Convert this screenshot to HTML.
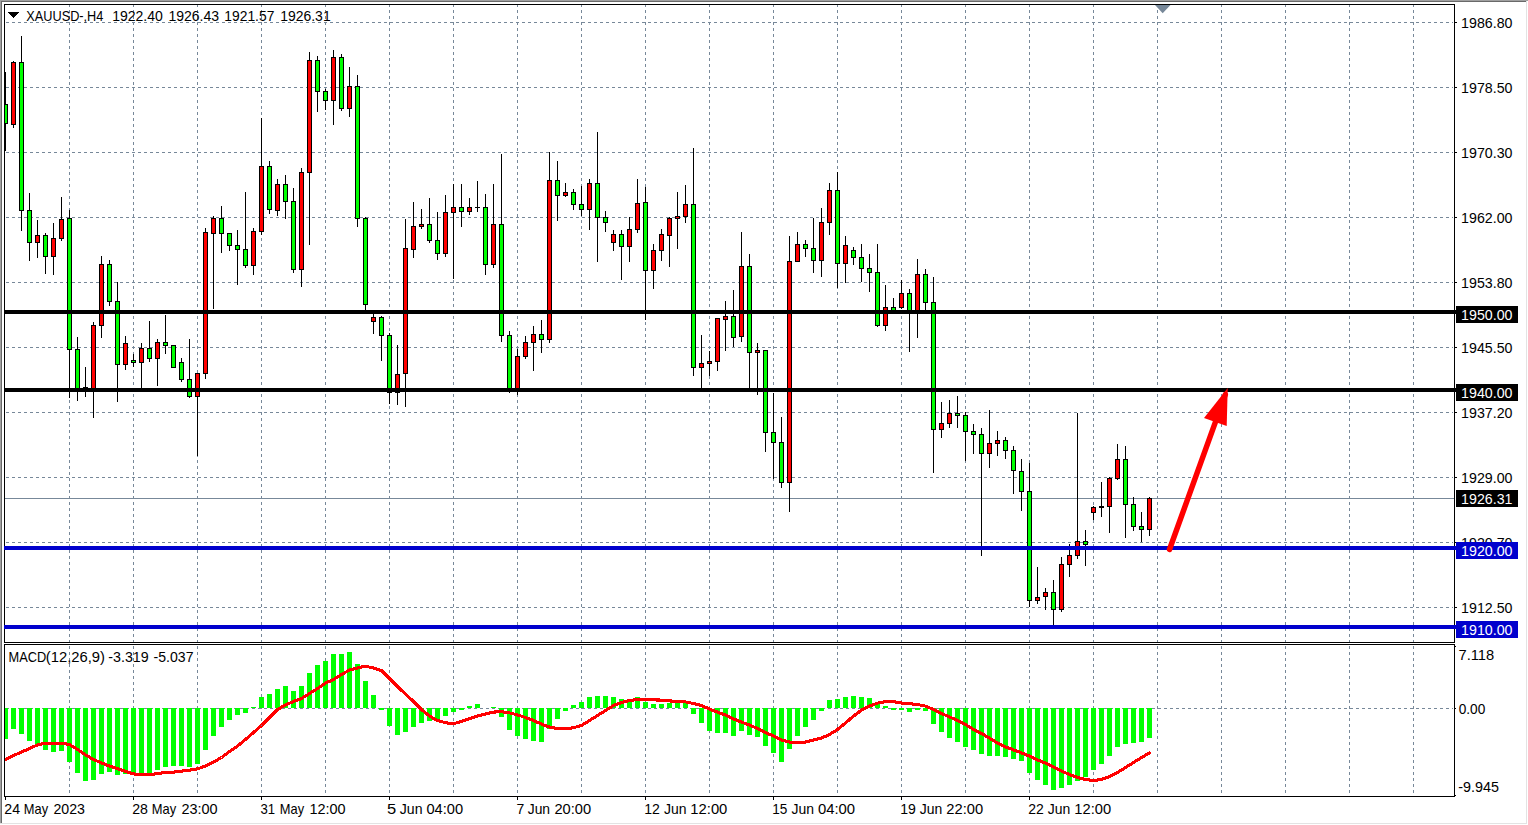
<!DOCTYPE html>
<html><head><meta charset="utf-8"><title>XAUUSD H4</title>
<style>
html,body{margin:0;padding:0;background:#fff;}
body{width:1528px;height:825px;overflow:hidden;position:relative;font-family:"Liberation Sans",sans-serif;}
svg{position:absolute;left:0;top:0;}
text{font-family:"Liberation Sans",sans-serif;font-size:13.8px;fill:#000;}
.w{fill:#fff;}
</style></head><body>
<svg width="1528" height="825" viewBox="0 0 1528 825">
<defs><clipPath id="cm"><rect x="5" y="5" width="1449" height="637"/></clipPath>
<clipPath id="cs"><rect x="5" y="645" width="1449" height="151"/></clipPath></defs>
<rect x="0" y="0" width="1528" height="825" fill="#fff"/>
<g shape-rendering="crispEdges">
<rect x="0" y="0" width="1528" height="1" fill="#a0a0a0"/>
<rect x="0" y="0" width="1" height="823" fill="#a0a0a0"/>
<rect x="1" y="1" width="1526" height="1" fill="#696969"/>
<rect x="1" y="1" width="1" height="822" fill="#696969"/>
<rect x="1526" y="1" width="1" height="823" fill="#e3e3e3"/>
<rect x="0" y="823" width="1527" height="1" fill="#e3e3e3"/>
<g stroke="#778899" stroke-width="1" stroke-dasharray="3 3" fill="none">
<line x1="69.5" y1="4" x2="69.5" y2="796"/>
<line x1="133.5" y1="4" x2="133.5" y2="796"/>
<line x1="197.5" y1="4" x2="197.5" y2="796"/>
<line x1="261.5" y1="4" x2="261.5" y2="796"/>
<line x1="325.5" y1="4" x2="325.5" y2="796"/>
<line x1="389.5" y1="4" x2="389.5" y2="796"/>
<line x1="453.5" y1="4" x2="453.5" y2="796"/>
<line x1="517.5" y1="4" x2="517.5" y2="796"/>
<line x1="581.5" y1="4" x2="581.5" y2="796"/>
<line x1="645.5" y1="4" x2="645.5" y2="796"/>
<line x1="709.5" y1="4" x2="709.5" y2="796"/>
<line x1="773.5" y1="4" x2="773.5" y2="796"/>
<line x1="837.5" y1="4" x2="837.5" y2="796"/>
<line x1="901.5" y1="4" x2="901.5" y2="796"/>
<line x1="965.5" y1="4" x2="965.5" y2="796"/>
<line x1="1029.5" y1="4" x2="1029.5" y2="796"/>
<line x1="1093.5" y1="4" x2="1093.5" y2="796"/>
<line x1="1157.5" y1="4" x2="1157.5" y2="796"/>
<line x1="1221.5" y1="4" x2="1221.5" y2="796"/>
<line x1="1285.5" y1="4" x2="1285.5" y2="796"/>
<line x1="1349.5" y1="4" x2="1349.5" y2="796"/>
<line x1="1413.5" y1="4" x2="1413.5" y2="796"/>
<line x1="6" y1="22.5" x2="1453" y2="22.5"/>
<line x1="6" y1="87.5" x2="1453" y2="87.5"/>
<line x1="6" y1="152.5" x2="1453" y2="152.5"/>
<line x1="6" y1="217.5" x2="1453" y2="217.5"/>
<line x1="6" y1="282.5" x2="1453" y2="282.5"/>
<line x1="6" y1="347.5" x2="1453" y2="347.5"/>
<line x1="6" y1="412.5" x2="1453" y2="412.5"/>
<line x1="6" y1="477.5" x2="1453" y2="477.5"/>
<line x1="6" y1="542.5" x2="1453" y2="542.5"/>
<line x1="6" y1="607.5" x2="1453" y2="607.5"/>
<line x1="6" y1="708.5" x2="1453" y2="708.5"/>
</g>
<rect x="5" y="643" width="1449" height="1" fill="#fff"/>
<rect x="5" y="498" width="1449" height="1" fill="#778899"/>
<g clip-path="url(#cm)">
<rect x="5" y="72" width="1" height="79" fill="#000"/>
<rect x="3" y="104" width="5" height="20" fill="#000"/>
<rect x="4" y="105" width="3" height="18" fill="#00ff00"/>
<rect x="13" y="61" width="1" height="67" fill="#000"/>
<rect x="11" y="62" width="5" height="63" fill="#000"/>
<rect x="12" y="63" width="3" height="61" fill="#ff0000"/>
<rect x="21" y="36" width="1" height="195" fill="#000"/>
<rect x="19" y="62" width="5" height="149" fill="#000"/>
<rect x="20" y="63" width="3" height="147" fill="#00ff00"/>
<rect x="29" y="193" width="1" height="68" fill="#000"/>
<rect x="27" y="210" width="5" height="33" fill="#000"/>
<rect x="28" y="211" width="3" height="31" fill="#00ff00"/>
<rect x="37" y="220" width="1" height="38" fill="#000"/>
<rect x="35" y="235" width="5" height="8" fill="#000"/>
<rect x="36" y="236" width="3" height="6" fill="#ff0000"/>
<rect x="45" y="233" width="1" height="41" fill="#000"/>
<rect x="43" y="235" width="5" height="22" fill="#000"/>
<rect x="44" y="236" width="3" height="20" fill="#00ff00"/>
<rect x="53" y="223" width="1" height="52" fill="#000"/>
<rect x="51" y="238" width="5" height="19" fill="#000"/>
<rect x="52" y="239" width="3" height="17" fill="#ff0000"/>
<rect x="61" y="197" width="1" height="44" fill="#000"/>
<rect x="59" y="219" width="5" height="20" fill="#000"/>
<rect x="60" y="220" width="3" height="18" fill="#ff0000"/>
<rect x="69" y="210" width="1" height="188" fill="#000"/>
<rect x="67" y="218" width="5" height="132" fill="#000"/>
<rect x="68" y="219" width="3" height="130" fill="#00ff00"/>
<rect x="77" y="337" width="1" height="64" fill="#000"/>
<rect x="75" y="349" width="5" height="40" fill="#000"/>
<rect x="76" y="350" width="3" height="38" fill="#00ff00"/>
<rect x="85" y="367" width="1" height="30" fill="#000"/>
<rect x="83" y="387" width="5" height="1" fill="#000"/>
<rect x="93" y="322" width="1" height="96" fill="#000"/>
<rect x="91" y="325" width="5" height="64" fill="#000"/>
<rect x="92" y="326" width="3" height="62" fill="#ff0000"/>
<rect x="101" y="256" width="1" height="82" fill="#000"/>
<rect x="99" y="264" width="5" height="62" fill="#000"/>
<rect x="100" y="265" width="3" height="60" fill="#ff0000"/>
<rect x="109" y="260" width="1" height="46" fill="#000"/>
<rect x="107" y="264" width="5" height="38" fill="#000"/>
<rect x="108" y="265" width="3" height="36" fill="#00ff00"/>
<rect x="117" y="282" width="1" height="120" fill="#000"/>
<rect x="115" y="301" width="5" height="64" fill="#000"/>
<rect x="116" y="302" width="3" height="62" fill="#00ff00"/>
<rect x="125" y="336" width="1" height="34" fill="#000"/>
<rect x="123" y="343" width="5" height="22" fill="#000"/>
<rect x="124" y="344" width="3" height="20" fill="#ff0000"/>
<rect x="133" y="354" width="1" height="13" fill="#000"/>
<rect x="131" y="360" width="5" height="3" fill="#000"/>
<rect x="132" y="361" width="3" height="1" fill="#00ff00"/>
<rect x="141" y="343" width="1" height="46" fill="#000"/>
<rect x="139" y="348" width="5" height="15" fill="#000"/>
<rect x="140" y="349" width="3" height="13" fill="#ff0000"/>
<rect x="149" y="321" width="1" height="41" fill="#000"/>
<rect x="147" y="348" width="5" height="11" fill="#000"/>
<rect x="148" y="349" width="3" height="9" fill="#00ff00"/>
<rect x="157" y="339" width="1" height="47" fill="#000"/>
<rect x="155" y="342" width="5" height="17" fill="#000"/>
<rect x="156" y="343" width="3" height="15" fill="#ff0000"/>
<rect x="165" y="315" width="1" height="39" fill="#000"/>
<rect x="163" y="342" width="5" height="4" fill="#000"/>
<rect x="164" y="343" width="3" height="2" fill="#00ff00"/>
<rect x="173" y="345" width="1" height="23" fill="#000"/>
<rect x="171" y="345" width="5" height="23" fill="#000"/>
<rect x="172" y="346" width="3" height="21" fill="#00ff00"/>
<rect x="181" y="358" width="1" height="24" fill="#000"/>
<rect x="179" y="362" width="5" height="18" fill="#000"/>
<rect x="180" y="363" width="3" height="16" fill="#00ff00"/>
<rect x="189" y="339" width="1" height="59" fill="#000"/>
<rect x="187" y="379" width="5" height="18" fill="#000"/>
<rect x="188" y="380" width="3" height="16" fill="#00ff00"/>
<rect x="197" y="373" width="1" height="83" fill="#000"/>
<rect x="195" y="373" width="5" height="24" fill="#000"/>
<rect x="196" y="374" width="3" height="22" fill="#ff0000"/>
<rect x="205" y="228" width="1" height="151" fill="#000"/>
<rect x="203" y="232" width="5" height="142" fill="#000"/>
<rect x="204" y="233" width="3" height="140" fill="#ff0000"/>
<rect x="213" y="216" width="1" height="93" fill="#000"/>
<rect x="211" y="218" width="5" height="16" fill="#000"/>
<rect x="212" y="219" width="3" height="14" fill="#ff0000"/>
<rect x="221" y="206" width="1" height="47" fill="#000"/>
<rect x="219" y="218" width="5" height="16" fill="#000"/>
<rect x="220" y="219" width="3" height="14" fill="#00ff00"/>
<rect x="229" y="233" width="1" height="18" fill="#000"/>
<rect x="227" y="233" width="5" height="13" fill="#000"/>
<rect x="228" y="234" width="3" height="11" fill="#00ff00"/>
<rect x="237" y="230" width="1" height="55" fill="#000"/>
<rect x="235" y="245" width="5" height="5" fill="#000"/>
<rect x="236" y="246" width="3" height="3" fill="#00ff00"/>
<rect x="245" y="192" width="1" height="76" fill="#000"/>
<rect x="243" y="249" width="5" height="17" fill="#000"/>
<rect x="244" y="250" width="3" height="15" fill="#00ff00"/>
<rect x="253" y="228" width="1" height="47" fill="#000"/>
<rect x="251" y="231" width="5" height="35" fill="#000"/>
<rect x="252" y="232" width="3" height="33" fill="#ff0000"/>
<rect x="261" y="118" width="1" height="117" fill="#000"/>
<rect x="259" y="166" width="5" height="66" fill="#000"/>
<rect x="260" y="167" width="3" height="64" fill="#ff0000"/>
<rect x="269" y="161" width="1" height="53" fill="#000"/>
<rect x="267" y="166" width="5" height="44" fill="#000"/>
<rect x="268" y="167" width="3" height="42" fill="#00ff00"/>
<rect x="277" y="179" width="1" height="37" fill="#000"/>
<rect x="275" y="184" width="5" height="27" fill="#000"/>
<rect x="276" y="185" width="3" height="25" fill="#ff0000"/>
<rect x="285" y="175" width="1" height="44" fill="#000"/>
<rect x="283" y="184" width="5" height="18" fill="#000"/>
<rect x="284" y="185" width="3" height="16" fill="#00ff00"/>
<rect x="293" y="188" width="1" height="85" fill="#000"/>
<rect x="291" y="201" width="5" height="69" fill="#000"/>
<rect x="292" y="202" width="3" height="67" fill="#00ff00"/>
<rect x="301" y="168" width="1" height="119" fill="#000"/>
<rect x="299" y="172" width="5" height="98" fill="#000"/>
<rect x="300" y="173" width="3" height="96" fill="#ff0000"/>
<rect x="309" y="52" width="1" height="193" fill="#000"/>
<rect x="307" y="60" width="5" height="113" fill="#000"/>
<rect x="308" y="61" width="3" height="111" fill="#ff0000"/>
<rect x="317" y="56" width="1" height="56" fill="#000"/>
<rect x="315" y="60" width="5" height="32" fill="#000"/>
<rect x="316" y="61" width="3" height="30" fill="#00ff00"/>
<rect x="325" y="89" width="1" height="21" fill="#000"/>
<rect x="323" y="91" width="5" height="10" fill="#000"/>
<rect x="324" y="92" width="3" height="8" fill="#00ff00"/>
<rect x="333" y="50" width="1" height="75" fill="#000"/>
<rect x="331" y="57" width="5" height="44" fill="#000"/>
<rect x="332" y="58" width="3" height="42" fill="#ff0000"/>
<rect x="341" y="54" width="1" height="57" fill="#000"/>
<rect x="339" y="57" width="5" height="52" fill="#000"/>
<rect x="340" y="58" width="3" height="50" fill="#00ff00"/>
<rect x="349" y="67" width="1" height="50" fill="#000"/>
<rect x="347" y="86" width="5" height="23" fill="#000"/>
<rect x="348" y="87" width="3" height="21" fill="#ff0000"/>
<rect x="357" y="75" width="1" height="152" fill="#000"/>
<rect x="355" y="86" width="5" height="133" fill="#000"/>
<rect x="356" y="87" width="3" height="131" fill="#00ff00"/>
<rect x="365" y="217" width="1" height="94" fill="#000"/>
<rect x="363" y="218" width="5" height="87" fill="#000"/>
<rect x="364" y="219" width="3" height="85" fill="#00ff00"/>
<rect x="373" y="314" width="1" height="20" fill="#000"/>
<rect x="371" y="317" width="5" height="5" fill="#000"/>
<rect x="372" y="318" width="3" height="3" fill="#ff0000"/>
<rect x="381" y="316" width="1" height="45" fill="#000"/>
<rect x="379" y="317" width="5" height="19" fill="#000"/>
<rect x="380" y="318" width="3" height="17" fill="#00ff00"/>
<rect x="389" y="333" width="1" height="71" fill="#000"/>
<rect x="387" y="335" width="5" height="58" fill="#000"/>
<rect x="388" y="336" width="3" height="56" fill="#00ff00"/>
<rect x="397" y="345" width="1" height="60" fill="#000"/>
<rect x="395" y="374" width="5" height="19" fill="#000"/>
<rect x="396" y="375" width="3" height="17" fill="#ff0000"/>
<rect x="405" y="219" width="1" height="188" fill="#000"/>
<rect x="403" y="248" width="5" height="126" fill="#000"/>
<rect x="404" y="249" width="3" height="124" fill="#ff0000"/>
<rect x="413" y="202" width="1" height="56" fill="#000"/>
<rect x="411" y="226" width="5" height="24" fill="#000"/>
<rect x="412" y="227" width="3" height="22" fill="#ff0000"/>
<rect x="421" y="209" width="1" height="20" fill="#000"/>
<rect x="419" y="224" width="5" height="3" fill="#000"/>
<rect x="420" y="225" width="3" height="1" fill="#ff0000"/>
<rect x="429" y="198" width="1" height="45" fill="#000"/>
<rect x="427" y="224" width="5" height="17" fill="#000"/>
<rect x="428" y="225" width="3" height="15" fill="#00ff00"/>
<rect x="437" y="212" width="1" height="48" fill="#000"/>
<rect x="435" y="240" width="5" height="14" fill="#000"/>
<rect x="436" y="241" width="3" height="12" fill="#00ff00"/>
<rect x="445" y="195" width="1" height="62" fill="#000"/>
<rect x="443" y="212" width="5" height="42" fill="#000"/>
<rect x="444" y="213" width="3" height="40" fill="#ff0000"/>
<rect x="453" y="184" width="1" height="95" fill="#000"/>
<rect x="451" y="207" width="5" height="6" fill="#000"/>
<rect x="452" y="208" width="3" height="4" fill="#ff0000"/>
<rect x="461" y="184" width="1" height="43" fill="#000"/>
<rect x="459" y="207" width="5" height="5" fill="#000"/>
<rect x="460" y="208" width="3" height="3" fill="#00ff00"/>
<rect x="469" y="198" width="1" height="17" fill="#000"/>
<rect x="467" y="207" width="5" height="5" fill="#000"/>
<rect x="468" y="208" width="3" height="3" fill="#ff0000"/>
<rect x="477" y="181" width="1" height="31" fill="#000"/>
<rect x="475" y="207" width="5" height="1" fill="#000"/>
<rect x="485" y="194" width="1" height="81" fill="#000"/>
<rect x="483" y="207" width="5" height="58" fill="#000"/>
<rect x="484" y="208" width="3" height="56" fill="#00ff00"/>
<rect x="493" y="184" width="1" height="84" fill="#000"/>
<rect x="491" y="224" width="5" height="41" fill="#000"/>
<rect x="492" y="225" width="3" height="39" fill="#ff0000"/>
<rect x="501" y="154" width="1" height="188" fill="#000"/>
<rect x="499" y="224" width="5" height="112" fill="#000"/>
<rect x="500" y="225" width="3" height="110" fill="#00ff00"/>
<rect x="509" y="331" width="1" height="62" fill="#000"/>
<rect x="507" y="335" width="5" height="56" fill="#000"/>
<rect x="508" y="336" width="3" height="54" fill="#00ff00"/>
<rect x="517" y="349" width="1" height="46" fill="#000"/>
<rect x="515" y="356" width="5" height="35" fill="#000"/>
<rect x="516" y="357" width="3" height="33" fill="#ff0000"/>
<rect x="525" y="336" width="1" height="23" fill="#000"/>
<rect x="523" y="342" width="5" height="15" fill="#000"/>
<rect x="524" y="343" width="3" height="13" fill="#ff0000"/>
<rect x="533" y="326" width="1" height="45" fill="#000"/>
<rect x="531" y="334" width="5" height="9" fill="#000"/>
<rect x="532" y="335" width="3" height="7" fill="#ff0000"/>
<rect x="541" y="320" width="1" height="33" fill="#000"/>
<rect x="539" y="334" width="5" height="6" fill="#000"/>
<rect x="540" y="335" width="3" height="4" fill="#00ff00"/>
<rect x="549" y="152" width="1" height="191" fill="#000"/>
<rect x="547" y="180" width="5" height="160" fill="#000"/>
<rect x="548" y="181" width="3" height="158" fill="#ff0000"/>
<rect x="557" y="161" width="1" height="60" fill="#000"/>
<rect x="555" y="180" width="5" height="16" fill="#000"/>
<rect x="556" y="181" width="3" height="14" fill="#00ff00"/>
<rect x="565" y="183" width="1" height="14" fill="#000"/>
<rect x="563" y="192" width="5" height="4" fill="#000"/>
<rect x="564" y="193" width="3" height="2" fill="#ff0000"/>
<rect x="573" y="189" width="1" height="21" fill="#000"/>
<rect x="571" y="192" width="5" height="13" fill="#000"/>
<rect x="572" y="193" width="3" height="11" fill="#00ff00"/>
<rect x="581" y="186" width="1" height="30" fill="#000"/>
<rect x="579" y="204" width="5" height="6" fill="#000"/>
<rect x="580" y="205" width="3" height="4" fill="#00ff00"/>
<rect x="589" y="179" width="1" height="51" fill="#000"/>
<rect x="587" y="183" width="5" height="27" fill="#000"/>
<rect x="588" y="184" width="3" height="25" fill="#ff0000"/>
<rect x="597" y="132" width="1" height="130" fill="#000"/>
<rect x="595" y="183" width="5" height="35" fill="#000"/>
<rect x="596" y="184" width="3" height="33" fill="#00ff00"/>
<rect x="605" y="211" width="1" height="21" fill="#000"/>
<rect x="603" y="217" width="5" height="6" fill="#000"/>
<rect x="604" y="218" width="3" height="4" fill="#00ff00"/>
<rect x="613" y="230" width="1" height="21" fill="#000"/>
<rect x="611" y="234" width="5" height="9" fill="#000"/>
<rect x="612" y="235" width="3" height="7" fill="#ff0000"/>
<rect x="621" y="230" width="1" height="50" fill="#000"/>
<rect x="619" y="234" width="5" height="13" fill="#000"/>
<rect x="620" y="235" width="3" height="11" fill="#00ff00"/>
<rect x="629" y="217" width="1" height="45" fill="#000"/>
<rect x="627" y="229" width="5" height="18" fill="#000"/>
<rect x="628" y="230" width="3" height="16" fill="#ff0000"/>
<rect x="637" y="179" width="1" height="54" fill="#000"/>
<rect x="635" y="203" width="5" height="27" fill="#000"/>
<rect x="636" y="204" width="3" height="25" fill="#ff0000"/>
<rect x="645" y="187" width="1" height="133" fill="#000"/>
<rect x="643" y="202" width="5" height="69" fill="#000"/>
<rect x="644" y="203" width="3" height="67" fill="#00ff00"/>
<rect x="653" y="244" width="1" height="45" fill="#000"/>
<rect x="651" y="250" width="5" height="21" fill="#000"/>
<rect x="652" y="251" width="3" height="19" fill="#ff0000"/>
<rect x="661" y="229" width="1" height="32" fill="#000"/>
<rect x="659" y="234" width="5" height="17" fill="#000"/>
<rect x="660" y="235" width="3" height="15" fill="#ff0000"/>
<rect x="669" y="217" width="1" height="50" fill="#000"/>
<rect x="667" y="218" width="5" height="18" fill="#000"/>
<rect x="668" y="219" width="3" height="16" fill="#ff0000"/>
<rect x="677" y="192" width="1" height="57" fill="#000"/>
<rect x="675" y="216" width="5" height="3" fill="#000"/>
<rect x="676" y="217" width="3" height="1" fill="#ff0000"/>
<rect x="685" y="185" width="1" height="38" fill="#000"/>
<rect x="683" y="204" width="5" height="13" fill="#000"/>
<rect x="684" y="205" width="3" height="11" fill="#ff0000"/>
<rect x="693" y="148" width="1" height="228" fill="#000"/>
<rect x="691" y="204" width="5" height="164" fill="#000"/>
<rect x="692" y="205" width="3" height="162" fill="#00ff00"/>
<rect x="701" y="335" width="1" height="56" fill="#000"/>
<rect x="699" y="363" width="5" height="5" fill="#000"/>
<rect x="700" y="364" width="3" height="3" fill="#ff0000"/>
<rect x="709" y="351" width="1" height="25" fill="#000"/>
<rect x="707" y="361" width="5" height="3" fill="#000"/>
<rect x="708" y="362" width="3" height="1" fill="#ff0000"/>
<rect x="717" y="318" width="1" height="53" fill="#000"/>
<rect x="715" y="318" width="5" height="44" fill="#000"/>
<rect x="716" y="319" width="3" height="42" fill="#ff0000"/>
<rect x="725" y="301" width="1" height="50" fill="#000"/>
<rect x="723" y="316" width="5" height="4" fill="#000"/>
<rect x="724" y="317" width="3" height="2" fill="#ff0000"/>
<rect x="733" y="290" width="1" height="57" fill="#000"/>
<rect x="731" y="316" width="5" height="22" fill="#000"/>
<rect x="732" y="317" width="3" height="20" fill="#00ff00"/>
<rect x="741" y="232" width="1" height="110" fill="#000"/>
<rect x="739" y="266" width="5" height="71" fill="#000"/>
<rect x="740" y="267" width="3" height="69" fill="#ff0000"/>
<rect x="749" y="254" width="1" height="137" fill="#000"/>
<rect x="747" y="266" width="5" height="87" fill="#000"/>
<rect x="748" y="267" width="3" height="85" fill="#00ff00"/>
<rect x="757" y="343" width="1" height="52" fill="#000"/>
<rect x="755" y="350" width="5" height="3" fill="#000"/>
<rect x="756" y="351" width="3" height="1" fill="#ff0000"/>
<rect x="765" y="350" width="1" height="102" fill="#000"/>
<rect x="763" y="350" width="5" height="83" fill="#000"/>
<rect x="764" y="351" width="3" height="81" fill="#00ff00"/>
<rect x="773" y="393" width="1" height="86" fill="#000"/>
<rect x="771" y="432" width="5" height="11" fill="#000"/>
<rect x="772" y="433" width="3" height="9" fill="#00ff00"/>
<rect x="781" y="417" width="1" height="71" fill="#000"/>
<rect x="779" y="442" width="5" height="41" fill="#000"/>
<rect x="780" y="443" width="3" height="39" fill="#00ff00"/>
<rect x="789" y="236" width="1" height="276" fill="#000"/>
<rect x="787" y="261" width="5" height="222" fill="#000"/>
<rect x="788" y="262" width="3" height="220" fill="#ff0000"/>
<rect x="797" y="232" width="1" height="30" fill="#000"/>
<rect x="795" y="244" width="5" height="18" fill="#000"/>
<rect x="796" y="245" width="3" height="16" fill="#ff0000"/>
<rect x="805" y="240" width="1" height="17" fill="#000"/>
<rect x="803" y="244" width="5" height="5" fill="#000"/>
<rect x="804" y="245" width="3" height="3" fill="#00ff00"/>
<rect x="813" y="218" width="1" height="55" fill="#000"/>
<rect x="811" y="248" width="5" height="13" fill="#000"/>
<rect x="812" y="249" width="3" height="11" fill="#00ff00"/>
<rect x="821" y="208" width="1" height="69" fill="#000"/>
<rect x="819" y="222" width="5" height="39" fill="#000"/>
<rect x="820" y="223" width="3" height="37" fill="#ff0000"/>
<rect x="829" y="183" width="1" height="52" fill="#000"/>
<rect x="827" y="190" width="5" height="33" fill="#000"/>
<rect x="828" y="191" width="3" height="31" fill="#ff0000"/>
<rect x="837" y="172" width="1" height="116" fill="#000"/>
<rect x="835" y="190" width="5" height="74" fill="#000"/>
<rect x="836" y="191" width="3" height="72" fill="#00ff00"/>
<rect x="845" y="236" width="1" height="47" fill="#000"/>
<rect x="843" y="245" width="5" height="19" fill="#000"/>
<rect x="844" y="246" width="3" height="17" fill="#ff0000"/>
<rect x="853" y="247" width="1" height="18" fill="#000"/>
<rect x="851" y="250" width="5" height="8" fill="#000"/>
<rect x="852" y="251" width="3" height="6" fill="#00ff00"/>
<rect x="861" y="244" width="1" height="38" fill="#000"/>
<rect x="859" y="257" width="5" height="12" fill="#000"/>
<rect x="860" y="258" width="3" height="10" fill="#00ff00"/>
<rect x="869" y="254" width="1" height="38" fill="#000"/>
<rect x="867" y="268" width="5" height="5" fill="#000"/>
<rect x="868" y="269" width="3" height="3" fill="#00ff00"/>
<rect x="877" y="244" width="1" height="83" fill="#000"/>
<rect x="875" y="272" width="5" height="54" fill="#000"/>
<rect x="876" y="273" width="3" height="52" fill="#00ff00"/>
<rect x="885" y="285" width="1" height="46" fill="#000"/>
<rect x="883" y="307" width="5" height="19" fill="#000"/>
<rect x="884" y="308" width="3" height="17" fill="#ff0000"/>
<rect x="893" y="298" width="1" height="14" fill="#000"/>
<rect x="891" y="307" width="5" height="5" fill="#000"/>
<rect x="892" y="308" width="3" height="3" fill="#00ff00"/>
<rect x="901" y="280" width="1" height="29" fill="#000"/>
<rect x="899" y="293" width="5" height="15" fill="#000"/>
<rect x="900" y="294" width="3" height="13" fill="#ff0000"/>
<rect x="909" y="289" width="1" height="63" fill="#000"/>
<rect x="907" y="293" width="5" height="20" fill="#000"/>
<rect x="908" y="294" width="3" height="18" fill="#00ff00"/>
<rect x="917" y="259" width="1" height="79" fill="#000"/>
<rect x="915" y="274" width="5" height="39" fill="#000"/>
<rect x="916" y="275" width="3" height="37" fill="#ff0000"/>
<rect x="925" y="269" width="1" height="42" fill="#000"/>
<rect x="923" y="274" width="5" height="29" fill="#000"/>
<rect x="924" y="275" width="3" height="27" fill="#00ff00"/>
<rect x="933" y="277" width="1" height="196" fill="#000"/>
<rect x="931" y="302" width="5" height="128" fill="#000"/>
<rect x="932" y="303" width="3" height="126" fill="#00ff00"/>
<rect x="941" y="402" width="1" height="36" fill="#000"/>
<rect x="939" y="423" width="5" height="7" fill="#000"/>
<rect x="940" y="424" width="3" height="5" fill="#ff0000"/>
<rect x="949" y="400" width="1" height="28" fill="#000"/>
<rect x="947" y="413" width="5" height="11" fill="#000"/>
<rect x="948" y="414" width="3" height="9" fill="#ff0000"/>
<rect x="957" y="396" width="1" height="32" fill="#000"/>
<rect x="955" y="413" width="5" height="3" fill="#000"/>
<rect x="956" y="414" width="3" height="1" fill="#00ff00"/>
<rect x="965" y="412" width="1" height="49" fill="#000"/>
<rect x="963" y="415" width="5" height="17" fill="#000"/>
<rect x="964" y="416" width="3" height="15" fill="#00ff00"/>
<rect x="973" y="424" width="1" height="30" fill="#000"/>
<rect x="971" y="431" width="5" height="4" fill="#000"/>
<rect x="972" y="432" width="3" height="2" fill="#00ff00"/>
<rect x="981" y="428" width="1" height="128" fill="#000"/>
<rect x="979" y="434" width="5" height="20" fill="#000"/>
<rect x="980" y="435" width="3" height="18" fill="#00ff00"/>
<rect x="989" y="410" width="1" height="58" fill="#000"/>
<rect x="987" y="443" width="5" height="11" fill="#000"/>
<rect x="988" y="444" width="3" height="9" fill="#ff0000"/>
<rect x="997" y="431" width="1" height="25" fill="#000"/>
<rect x="995" y="440" width="5" height="4" fill="#000"/>
<rect x="996" y="441" width="3" height="2" fill="#ff0000"/>
<rect x="1005" y="437" width="1" height="22" fill="#000"/>
<rect x="1003" y="440" width="5" height="11" fill="#000"/>
<rect x="1004" y="441" width="3" height="9" fill="#00ff00"/>
<rect x="1013" y="446" width="1" height="48" fill="#000"/>
<rect x="1011" y="450" width="5" height="21" fill="#000"/>
<rect x="1012" y="451" width="3" height="19" fill="#00ff00"/>
<rect x="1021" y="459" width="1" height="52" fill="#000"/>
<rect x="1019" y="471" width="5" height="21" fill="#000"/>
<rect x="1020" y="472" width="3" height="19" fill="#00ff00"/>
<rect x="1029" y="463" width="1" height="144" fill="#000"/>
<rect x="1027" y="491" width="5" height="110" fill="#000"/>
<rect x="1028" y="492" width="3" height="108" fill="#00ff00"/>
<rect x="1037" y="567" width="1" height="37" fill="#000"/>
<rect x="1035" y="597" width="5" height="4" fill="#000"/>
<rect x="1036" y="598" width="3" height="2" fill="#ff0000"/>
<rect x="1045" y="588" width="1" height="22" fill="#000"/>
<rect x="1043" y="592" width="5" height="5" fill="#000"/>
<rect x="1044" y="593" width="3" height="3" fill="#ff0000"/>
<rect x="1053" y="580" width="1" height="46" fill="#000"/>
<rect x="1051" y="592" width="5" height="18" fill="#000"/>
<rect x="1052" y="593" width="3" height="16" fill="#00ff00"/>
<rect x="1061" y="557" width="1" height="55" fill="#000"/>
<rect x="1059" y="564" width="5" height="46" fill="#000"/>
<rect x="1060" y="565" width="3" height="44" fill="#ff0000"/>
<rect x="1069" y="544" width="1" height="33" fill="#000"/>
<rect x="1067" y="555" width="5" height="10" fill="#000"/>
<rect x="1068" y="556" width="3" height="8" fill="#ff0000"/>
<rect x="1077" y="413" width="1" height="146" fill="#000"/>
<rect x="1075" y="541" width="5" height="15" fill="#000"/>
<rect x="1076" y="542" width="3" height="13" fill="#ff0000"/>
<rect x="1085" y="530" width="1" height="36" fill="#000"/>
<rect x="1083" y="541" width="5" height="4" fill="#000"/>
<rect x="1084" y="542" width="3" height="2" fill="#00ff00"/>
<rect x="1093" y="506" width="1" height="14" fill="#000"/>
<rect x="1091" y="507" width="5" height="6" fill="#000"/>
<rect x="1092" y="508" width="3" height="4" fill="#ff0000"/>
<rect x="1101" y="482" width="1" height="35" fill="#000"/>
<rect x="1099" y="506" width="5" height="2" fill="#000"/>
<rect x="1109" y="477" width="1" height="56" fill="#000"/>
<rect x="1107" y="478" width="5" height="29" fill="#000"/>
<rect x="1108" y="479" width="3" height="27" fill="#ff0000"/>
<rect x="1117" y="444" width="1" height="36" fill="#000"/>
<rect x="1115" y="459" width="5" height="20" fill="#000"/>
<rect x="1116" y="460" width="3" height="18" fill="#ff0000"/>
<rect x="1125" y="446" width="1" height="92" fill="#000"/>
<rect x="1123" y="459" width="5" height="46" fill="#000"/>
<rect x="1124" y="460" width="3" height="44" fill="#00ff00"/>
<rect x="1133" y="497" width="1" height="34" fill="#000"/>
<rect x="1131" y="504" width="5" height="23" fill="#000"/>
<rect x="1132" y="505" width="3" height="21" fill="#00ff00"/>
<rect x="1141" y="512" width="1" height="30" fill="#000"/>
<rect x="1139" y="526" width="5" height="4" fill="#000"/>
<rect x="1140" y="527" width="3" height="2" fill="#00ff00"/>
<rect x="1149" y="497" width="1" height="39" fill="#000"/>
<rect x="1147" y="498" width="5" height="32" fill="#000"/>
<rect x="1148" y="499" width="3" height="30" fill="#ff0000"/>
</g>
<g clip-path="url(#cs)">
<rect x="3" y="708" width="5" height="31" fill="#00ff00"/>
<rect x="11" y="708" width="5" height="21" fill="#00ff00"/>
<rect x="19" y="708" width="5" height="26" fill="#00ff00"/>
<rect x="27" y="708" width="5" height="33" fill="#00ff00"/>
<rect x="35" y="708" width="5" height="38" fill="#00ff00"/>
<rect x="43" y="708" width="5" height="42" fill="#00ff00"/>
<rect x="51" y="708" width="5" height="44" fill="#00ff00"/>
<rect x="59" y="708" width="5" height="43" fill="#00ff00"/>
<rect x="67" y="708" width="5" height="54" fill="#00ff00"/>
<rect x="75" y="708" width="5" height="65" fill="#00ff00"/>
<rect x="83" y="708" width="5" height="73" fill="#00ff00"/>
<rect x="91" y="708" width="5" height="72" fill="#00ff00"/>
<rect x="99" y="708" width="5" height="66" fill="#00ff00"/>
<rect x="107" y="708" width="5" height="64" fill="#00ff00"/>
<rect x="115" y="708" width="5" height="67" fill="#00ff00"/>
<rect x="123" y="708" width="5" height="66" fill="#00ff00"/>
<rect x="131" y="708" width="5" height="67" fill="#00ff00"/>
<rect x="139" y="708" width="5" height="66" fill="#00ff00"/>
<rect x="147" y="708" width="5" height="65" fill="#00ff00"/>
<rect x="155" y="708" width="5" height="62" fill="#00ff00"/>
<rect x="163" y="708" width="5" height="59" fill="#00ff00"/>
<rect x="171" y="708" width="5" height="58" fill="#00ff00"/>
<rect x="179" y="708" width="5" height="58" fill="#00ff00"/>
<rect x="187" y="708" width="5" height="59" fill="#00ff00"/>
<rect x="195" y="708" width="5" height="56" fill="#00ff00"/>
<rect x="203" y="708" width="5" height="42" fill="#00ff00"/>
<rect x="211" y="708" width="5" height="28" fill="#00ff00"/>
<rect x="219" y="708" width="5" height="19" fill="#00ff00"/>
<rect x="227" y="708" width="5" height="12" fill="#00ff00"/>
<rect x="235" y="708" width="5" height="7" fill="#00ff00"/>
<rect x="243" y="708" width="5" height="5" fill="#00ff00"/>
<rect x="251" y="707" width="5" height="1" fill="#00ff00"/>
<rect x="259" y="697" width="5" height="11" fill="#00ff00"/>
<rect x="267" y="694" width="5" height="14" fill="#00ff00"/>
<rect x="275" y="689" width="5" height="19" fill="#00ff00"/>
<rect x="283" y="686" width="5" height="22" fill="#00ff00"/>
<rect x="291" y="691" width="5" height="17" fill="#00ff00"/>
<rect x="299" y="686" width="5" height="22" fill="#00ff00"/>
<rect x="307" y="673" width="5" height="35" fill="#00ff00"/>
<rect x="315" y="665" width="5" height="43" fill="#00ff00"/>
<rect x="323" y="661" width="5" height="47" fill="#00ff00"/>
<rect x="331" y="654" width="5" height="54" fill="#00ff00"/>
<rect x="339" y="654" width="5" height="54" fill="#00ff00"/>
<rect x="347" y="652" width="5" height="56" fill="#00ff00"/>
<rect x="355" y="664" width="5" height="44" fill="#00ff00"/>
<rect x="363" y="681" width="5" height="27" fill="#00ff00"/>
<rect x="371" y="695" width="5" height="13" fill="#00ff00"/>
<rect x="379" y="708" width="5" height="2" fill="#00ff00"/>
<rect x="387" y="708" width="5" height="18" fill="#00ff00"/>
<rect x="395" y="708" width="5" height="27" fill="#00ff00"/>
<rect x="403" y="708" width="5" height="24" fill="#00ff00"/>
<rect x="411" y="708" width="5" height="19" fill="#00ff00"/>
<rect x="419" y="708" width="5" height="15" fill="#00ff00"/>
<rect x="427" y="708" width="5" height="13" fill="#00ff00"/>
<rect x="435" y="708" width="5" height="13" fill="#00ff00"/>
<rect x="443" y="708" width="5" height="8" fill="#00ff00"/>
<rect x="451" y="708" width="5" height="4" fill="#00ff00"/>
<rect x="459" y="708" width="5" height="2" fill="#00ff00"/>
<rect x="467" y="706" width="5" height="2" fill="#00ff00"/>
<rect x="475" y="704" width="5" height="4" fill="#00ff00"/>
<rect x="483" y="708" width="5" height="0" fill="#00ff00"/>
<rect x="491" y="707" width="5" height="1" fill="#00ff00"/>
<rect x="499" y="708" width="5" height="9" fill="#00ff00"/>
<rect x="507" y="708" width="5" height="22" fill="#00ff00"/>
<rect x="515" y="708" width="5" height="28" fill="#00ff00"/>
<rect x="523" y="708" width="5" height="31" fill="#00ff00"/>
<rect x="531" y="708" width="5" height="33" fill="#00ff00"/>
<rect x="539" y="708" width="5" height="34" fill="#00ff00"/>
<rect x="547" y="708" width="5" height="21" fill="#00ff00"/>
<rect x="555" y="708" width="5" height="11" fill="#00ff00"/>
<rect x="563" y="708" width="5" height="3" fill="#00ff00"/>
<rect x="571" y="705" width="5" height="3" fill="#00ff00"/>
<rect x="579" y="702" width="5" height="6" fill="#00ff00"/>
<rect x="587" y="697" width="5" height="11" fill="#00ff00"/>
<rect x="595" y="696" width="5" height="12" fill="#00ff00"/>
<rect x="603" y="696" width="5" height="12" fill="#00ff00"/>
<rect x="611" y="697" width="5" height="11" fill="#00ff00"/>
<rect x="619" y="699" width="5" height="9" fill="#00ff00"/>
<rect x="627" y="700" width="5" height="8" fill="#00ff00"/>
<rect x="635" y="697" width="5" height="11" fill="#00ff00"/>
<rect x="643" y="702" width="5" height="6" fill="#00ff00"/>
<rect x="651" y="704" width="5" height="4" fill="#00ff00"/>
<rect x="659" y="704" width="5" height="4" fill="#00ff00"/>
<rect x="667" y="703" width="5" height="5" fill="#00ff00"/>
<rect x="675" y="702" width="5" height="6" fill="#00ff00"/>
<rect x="683" y="701" width="5" height="7" fill="#00ff00"/>
<rect x="691" y="708" width="5" height="6" fill="#00ff00"/>
<rect x="699" y="708" width="5" height="15" fill="#00ff00"/>
<rect x="707" y="708" width="5" height="23" fill="#00ff00"/>
<rect x="715" y="708" width="5" height="25" fill="#00ff00"/>
<rect x="723" y="708" width="5" height="25" fill="#00ff00"/>
<rect x="731" y="708" width="5" height="28" fill="#00ff00"/>
<rect x="739" y="708" width="5" height="23" fill="#00ff00"/>
<rect x="747" y="708" width="5" height="27" fill="#00ff00"/>
<rect x="755" y="708" width="5" height="29" fill="#00ff00"/>
<rect x="763" y="708" width="5" height="38" fill="#00ff00"/>
<rect x="771" y="708" width="5" height="45" fill="#00ff00"/>
<rect x="779" y="708" width="5" height="54" fill="#00ff00"/>
<rect x="787" y="708" width="5" height="41" fill="#00ff00"/>
<rect x="795" y="708" width="5" height="28" fill="#00ff00"/>
<rect x="803" y="708" width="5" height="19" fill="#00ff00"/>
<rect x="811" y="708" width="5" height="12" fill="#00ff00"/>
<rect x="819" y="708" width="5" height="3" fill="#00ff00"/>
<rect x="827" y="700" width="5" height="8" fill="#00ff00"/>
<rect x="835" y="699" width="5" height="9" fill="#00ff00"/>
<rect x="843" y="697" width="5" height="11" fill="#00ff00"/>
<rect x="851" y="696" width="5" height="12" fill="#00ff00"/>
<rect x="859" y="697" width="5" height="11" fill="#00ff00"/>
<rect x="867" y="698" width="5" height="10" fill="#00ff00"/>
<rect x="875" y="702" width="5" height="6" fill="#00ff00"/>
<rect x="883" y="706" width="5" height="2" fill="#00ff00"/>
<rect x="891" y="708" width="5" height="2" fill="#00ff00"/>
<rect x="899" y="708" width="5" height="2" fill="#00ff00"/>
<rect x="907" y="708" width="5" height="4" fill="#00ff00"/>
<rect x="915" y="708" width="5" height="2" fill="#00ff00"/>
<rect x="923" y="708" width="5" height="3" fill="#00ff00"/>
<rect x="931" y="708" width="5" height="16" fill="#00ff00"/>
<rect x="939" y="708" width="5" height="24" fill="#00ff00"/>
<rect x="947" y="708" width="5" height="30" fill="#00ff00"/>
<rect x="955" y="708" width="5" height="34" fill="#00ff00"/>
<rect x="963" y="708" width="5" height="39" fill="#00ff00"/>
<rect x="971" y="708" width="5" height="42" fill="#00ff00"/>
<rect x="979" y="708" width="5" height="46" fill="#00ff00"/>
<rect x="987" y="708" width="5" height="48" fill="#00ff00"/>
<rect x="995" y="708" width="5" height="48" fill="#00ff00"/>
<rect x="1003" y="708" width="5" height="49" fill="#00ff00"/>
<rect x="1011" y="708" width="5" height="51" fill="#00ff00"/>
<rect x="1019" y="708" width="5" height="53" fill="#00ff00"/>
<rect x="1027" y="708" width="5" height="65" fill="#00ff00"/>
<rect x="1035" y="708" width="5" height="72" fill="#00ff00"/>
<rect x="1043" y="708" width="5" height="77" fill="#00ff00"/>
<rect x="1051" y="708" width="5" height="82" fill="#00ff00"/>
<rect x="1059" y="708" width="5" height="80" fill="#00ff00"/>
<rect x="1067" y="708" width="5" height="77" fill="#00ff00"/>
<rect x="1075" y="708" width="5" height="73" fill="#00ff00"/>
<rect x="1083" y="708" width="5" height="69" fill="#00ff00"/>
<rect x="1091" y="708" width="5" height="62" fill="#00ff00"/>
<rect x="1099" y="708" width="5" height="56" fill="#00ff00"/>
<rect x="1107" y="708" width="5" height="48" fill="#00ff00"/>
<rect x="1115" y="708" width="5" height="39" fill="#00ff00"/>
<rect x="1123" y="708" width="5" height="36" fill="#00ff00"/>
<rect x="1131" y="708" width="5" height="35" fill="#00ff00"/>
<rect x="1139" y="708" width="5" height="34" fill="#00ff00"/>
<rect x="1147" y="708" width="5" height="30" fill="#00ff00"/>
</g>
<rect x="4" y="4" width="1451" height="1" fill="#000"/>
<rect x="4" y="642" width="1451" height="1" fill="#000"/>
<rect x="4" y="4" width="1" height="639" fill="#000"/>
<rect x="1454" y="4" width="1" height="639" fill="#000"/>
<rect x="4" y="644" width="1451" height="1" fill="#000"/>
<rect x="4" y="796" width="1451" height="1" fill="#000"/>
<rect x="4" y="644" width="1" height="153" fill="#000"/>
<rect x="1454" y="644" width="1" height="153" fill="#000"/>
<rect x="1455" y="22" width="2" height="1" fill="#000"/>
<rect x="1455" y="87" width="2" height="1" fill="#000"/>
<rect x="1455" y="152" width="2" height="1" fill="#000"/>
<rect x="1455" y="217" width="2" height="1" fill="#000"/>
<rect x="1455" y="282" width="2" height="1" fill="#000"/>
<rect x="1455" y="347" width="2" height="1" fill="#000"/>
<rect x="1455" y="412" width="2" height="1" fill="#000"/>
<rect x="1455" y="477" width="2" height="1" fill="#000"/>
<rect x="1455" y="542" width="2" height="1" fill="#000"/>
<rect x="1455" y="607" width="2" height="1" fill="#000"/>
<rect x="1455" y="646" width="1" height="1" fill="#000"/>
<rect x="1455" y="708" width="1" height="1" fill="#000"/>
<rect x="1455" y="795" width="1" height="1" fill="#000"/>
<rect x="5" y="797" width="1" height="3" fill="#000"/>
<rect x="133" y="797" width="1" height="3" fill="#000"/>
<rect x="261" y="797" width="1" height="3" fill="#000"/>
<rect x="389" y="797" width="1" height="3" fill="#000"/>
<rect x="517" y="797" width="1" height="3" fill="#000"/>
<rect x="645" y="797" width="1" height="3" fill="#000"/>
<rect x="773" y="797" width="1" height="3" fill="#000"/>
<rect x="901" y="797" width="1" height="3" fill="#000"/>
<rect x="1029" y="797" width="1" height="3" fill="#000"/>
<rect x="4" y="310" width="1452" height="4" fill="#000"/>
<rect x="4" y="388" width="1452" height="4" fill="#000"/>
<rect x="4" y="546" width="1452" height="4" fill="#0000cd"/>
<rect x="4" y="625" width="1452" height="4" fill="#0000cd"/>
<rect x="1456" y="306" width="62" height="17" fill="#000"/>
<rect x="1456" y="384" width="62" height="17" fill="#000"/>
<rect x="1456" y="490" width="62" height="17" fill="#000"/>
</g>
<polyline clip-path="url(#cs)" points="5.5,759.5 13.5,755.5 21.5,752.1 29.5,748.5 37.5,744.9 45.5,743.1 53.5,743.1 61.5,743.1 69.5,744.5 77.5,749.5 85.5,754.9 93.5,759.5 101.5,762.9 109.5,766.1 117.5,768.5 125.5,771.5 133.5,773.9 141.5,774.9 149.5,774.9 157.5,773.5 165.5,772.5 173.5,772.1 181.5,771.1 189.5,770.1 197.5,768.9 205.5,766.1 213.5,762.1 221.5,757.5 229.5,751.5 237.5,746.1 245.5,739.5 253.5,732.5 261.5,725.5 269.5,717.5 277.5,709.5 285.5,704.9 293.5,701.5 301.5,698.5 309.5,693.5 317.5,688.5 325.5,683.1 333.5,679.5 341.5,674.5 349.5,670.1 357.5,667.9 365.5,666.2 373.5,668.1 381.5,670.5 389.5,678.5 397.5,686.5 405.5,694.1 413.5,701.5 421.5,709.5 429.5,716.1 437.5,720.5 445.5,722.7 453.5,723.7 461.5,721.5 469.5,718.5 477.5,716.1 485.5,714.1 493.5,712.1 501.5,711.7 509.5,712.9 517.5,714.9 525.5,717.5 533.5,720.5 541.5,724.1 549.5,727.1 557.5,728.5 565.5,728.7 573.5,727.7 581.5,725.5 589.5,720.5 597.5,715.5 605.5,710.5 613.5,705.5 621.5,702.5 629.5,700.5 637.5,699.5 645.5,699.1 653.5,699.9 661.5,700.1 669.5,700.9 677.5,701.5 685.5,701.9 693.5,703.5 701.5,705.5 709.5,709.1 717.5,712.1 725.5,715.1 733.5,718.9 741.5,722.1 749.5,725.1 757.5,728.5 765.5,732.5 773.5,736.1 781.5,739.9 789.5,742.1 797.5,742.9 805.5,742.1 813.5,740.1 821.5,738.1 829.5,734.5 837.5,729.5 845.5,722.9 853.5,716.1 861.5,710.1 869.5,706.1 877.5,703.1 885.5,701.7 893.5,701.7 901.5,703.0 909.5,703.7 917.5,704.5 925.5,706.1 933.5,709.5 941.5,713.5 949.5,716.9 957.5,720.5 965.5,724.5 973.5,729.5 981.5,733.5 989.5,738.1 997.5,743.1 1005.5,746.9 1013.5,749.9 1021.5,752.9 1029.5,756.1 1037.5,759.9 1045.5,763.1 1053.5,767.1 1061.5,771.1 1069.5,774.5 1077.5,777.5 1085.5,779.5 1093.5,780.5 1101.5,779.5 1109.5,776.5 1117.5,772.5 1125.5,767.5 1133.5,762.5 1141.5,757.5 1149.5,752.9" fill="none" stroke="#ff0000" stroke-width="3.1" stroke-linejoin="round" stroke-linecap="round" shape-rendering="crispEdges"/>
<polygon points="1155,5 1170.5,5 1162.7,13.2" fill="#778899"/>
<polygon points="8,12 19,12 13.5,18" fill="#000" shape-rendering="crispEdges"/>
<text transform="translate(26.30,21) scale(0.9226,1)">XAUUSD-,H4</text>
<text transform="translate(112.18,21) scale(1.0163,1)">1922.40</text>
<text transform="translate(168.38,21) scale(1.0184,1)">1926.43</text>
<text transform="translate(224.30,21) scale(1.0041,1)">1921.57</text>
<text transform="translate(280.19,21) scale(1.0122,1)">1926.31</text>
<text transform="translate(8.57,662) scale(0.9282,1)">MACD</text>
<text transform="translate(45.83,662) scale(1.0722,1)">(12,26,9)</text>
<text transform="translate(108.30,662) scale(1.0333,1)">-3.319</text>
<text transform="translate(153.60,662) scale(1.0205,1)">-5.037</text>
<text transform="translate(1461.07,28) scale(1.0306,1)">1986.80</text>
<text transform="translate(1461.07,93) scale(1.0306,1)">1978.50</text>
<text transform="translate(1461.07,158) scale(1.0306,1)">1970.30</text>
<text transform="translate(1461.07,223) scale(1.0306,1)">1962.00</text>
<text transform="translate(1461.07,288) scale(1.0306,1)">1953.80</text>
<text transform="translate(1461.07,353) scale(1.0306,1)">1945.50</text>
<text transform="translate(1461.07,418) scale(1.0306,1)">1937.20</text>
<text transform="translate(1461.07,483) scale(1.0306,1)">1929.00</text>
<text transform="translate(1461.07,548) scale(1.0306,1)">1920.70</text>
<text transform="translate(1461.07,613) scale(1.0306,1)">1912.50</text>
<text transform="translate(1458.50,660) scale(1.0667,1)">7.118</text>
<text transform="translate(1458.70,714) scale(0.9889,1)">0.00</text>
<text transform="translate(1458.30,792) scale(1.0410,1)">-9.945</text>
<text transform="translate(4.30,814) scale(1.0267,1)">24</text>
<text transform="translate(23.87,814) scale(0.9340,1)">May</text>
<text transform="translate(53.40,814) scale(1.0267,1)">2023</text>
<text transform="translate(132.20,814) scale(1.0267,1)">28</text>
<text transform="translate(151.86,814) scale(0.9360,1)">May</text>
<text transform="translate(181.40,814) scale(1.0500,1)">23:00</text>
<text transform="translate(260.50,814) scale(0.9533,1)">31</text>
<text transform="translate(279.87,814) scale(0.9320,1)">May</text>
<text transform="translate(309.45,814) scale(1.0485,1)">12:00</text>
<text transform="translate(387.10,814) scale(1.2000,1)">5</text>
<text transform="translate(399.80,814) scale(1.0227,1)">Jun</text>
<text transform="translate(426.40,814) scale(1.0618,1)">04:00</text>
<text transform="translate(516.40,814) scale(1.0143,1)">7</text>
<text transform="translate(527.70,814) scale(1.0045,1)">Jun</text>
<text transform="translate(554.40,814) scale(1.0618,1)">20:00</text>
<text transform="translate(644.18,814) scale(1.0214,1)">12</text>
<text transform="translate(663.90,814) scale(1.0136,1)">Jun</text>
<text transform="translate(690.33,814) scale(1.0727,1)">12:00</text>
<text transform="translate(772.21,814) scale(0.9857,1)">15</text>
<text transform="translate(791.50,814) scale(1.0136,1)">Jun</text>
<text transform="translate(817.90,814) scale(1.0765,1)">04:00</text>
<text transform="translate(900.18,814) scale(1.0214,1)">19</text>
<text transform="translate(919.70,814) scale(1.0136,1)">Jun</text>
<text transform="translate(946.30,814) scale(1.0676,1)">22:00</text>
<text transform="translate(1028.30,814) scale(1.0133,1)">22</text>
<text transform="translate(1047.70,814) scale(1.0136,1)">Jun</text>
<text transform="translate(1074.33,814) scale(1.0667,1)">12:00</text>
<rect x="1456" y="542" width="62" height="17" fill="#0000cd" shape-rendering="crispEdges"/>
<rect x="1456" y="621" width="62" height="17" fill="#0000cd" shape-rendering="crispEdges"/>
<text transform="translate(1461.07,320) scale(1.0306,1)" class="w">1950.00</text>
<text transform="translate(1461.07,398) scale(1.0306,1)" class="w">1940.00</text>
<text transform="translate(1461.07,504) scale(1.0306,1)" class="w">1926.31</text>
<text transform="translate(1461.07,556) scale(1.0306,1)" class="w">1920.00</text>
<text transform="translate(1461.07,635) scale(1.0306,1)" class="w">1910.00</text>
<line x1="1169.5" y1="549.5" x2="1225.3" y2="394.6" stroke="#ff0000" stroke-width="5.5" stroke-linecap="round"/>
<polygon points="1227.7,388 1204,418 1226.7,426" fill="#ff0000"/>
</svg></body></html>
